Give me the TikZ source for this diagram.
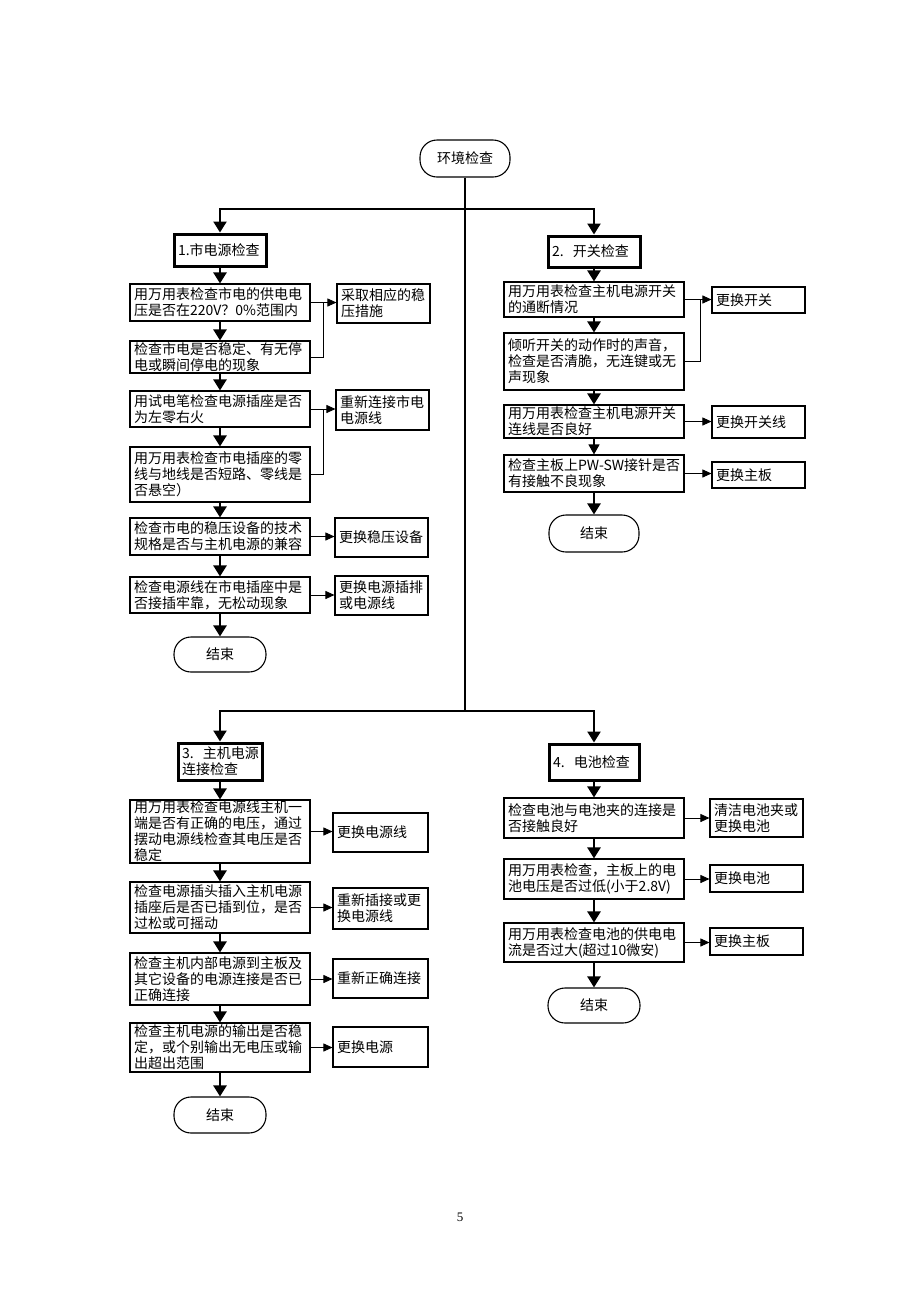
\documentclass[tikz,border=0pt]{standalone}
\usepackage{fontspec}
\setmainfont{Noto Sans CJK SC}
\newfontfamily\latinserif{Liberation Serif}
\usetikzlibrary{arrows.meta}
\tikzset{
  box/.style={draw, line width=1.1pt, rectangle, inner xsep=4pt, inner ysep=1pt,
    align=left, font=\fontsize{14}{16}\selectfont},
  secbox/.style={draw, line width=3pt, rectangle, inner xsep=4pt, inner ysep=1pt,
    align=left, font=\fontsize{14}{16}\selectfont},
  endbox/.style={box, rounded corners=17pt, align=center},
  mainln/.style={line width=2.4pt},
  mainarr/.style={line width=2.4pt, -{Triangle[length=11pt,width=13pt]}},
  sidearr/.style={line width=0.9pt, -{Triangle[length=9pt,width=8pt]}},
  sideln/.style={line width=0.9pt},
}
\newcommand\bx[7][box]{%
  \pgfmathsetmacro\bxcx{#3+#5/2}%
  \pgfmathsetmacro\bxcy{#4+#6/2}%
  \pgfmathsetmacro\bxtw{#5-8}%
  \node[#1, minimum width=#5pt, minimum height=#6pt, text width=\bxtw pt] (#2) at (\bxcx,\bxcy) {#7};}
\begin{document}
\begin{tikzpicture}[x=1pt,y=-1pt]
\useasboundingbox (0,0) rectangle (920,1302);
\fill[white] (0,0) rectangle (920,1302);

% top
\bx[endbox]{top}{420}{140}{90}{37}{环境检查}

% column 1
\bx[secbox]{b1}{174}{234}{92}{32}{1.市电源检查}
\bx{b1a}{130}{284}{180}{37}{用万用表检查市电的供电电\\压是否在220V？0\%范围内}
\bx{s1}{337}{284}{93}{39}{采取相应的稳\\压措施}
\bx{b1b}{130}{341}{180}{32}{检查市电是否稳定、有无停\\电或瞬间停电的现象}
\bx{b1c}{130}{391}{180}{36}{用试电笔检查电源插座是否\\为左零右火}
\bx{s2}{336}{390}{93}{40}{重新连接市电\\电源线}
\bx{b1d}{130}{447}{180}{55}{用万用表检查市电插座的零\\线与地线是否短路、零线是\\否悬空）}
\bx{b1e}{130}{518}{180}{37}{检查市电的稳压设备的技术\\规格是否与主机电源的兼容}
\bx{s3}{335}{518}{93}{39}{更换稳压设备}
\bx{b1f}{130}{577}{180}{36}{检查电源线在市电插座中是\\否接插牢靠，无松动现象}
\bx{s4}{335}{576}{93}{39}{更换电源插排\\或电源线}
\bx[endbox]{e1}{174}{637}{92}{35}{结束}

% column 2
\bx[secbox]{b2}{548}{236}{92}{31}{2.~~开关检查}
\bx{b2a}{504}{282}{180}{35}{用万用表检查主机电源开关\\的通断情况}
\bx{s5}{712}{287}{93}{26}{更换开关}
\bx{b2b}{504}{333}{180}{57}{倾听开关的动作时的声音，\\检查是否清脆，无连键或无\\声现象}
\bx{b2c}{504}{405}{180}{33}{用万用表检查主机电源开关\\连线是否良好}
\bx{s6}{712}{406}{93}{32}{更换开关线}
\bx{b2d}{504}{455}{180}{37}{\mbox{检查主板上PW-SW接针是否}\\有接触不良现象}
\bx{s7}{712}{462}{93}{26}{更换主板}
\bx[endbox]{e2}{549}{515}{90}{37}{结束}

% column 3
\bx[secbox]{b3}{178}{743}{84}{37}{3.~~主机电源\\连接检查}
\bx{b3a}{130}{800}{180}{63}{用万用表检查电源线主机一\\端是否有正确的电压，通过\\摆动电源线检查其电压是否\\稳定}
\bx{s8}{333}{813}{95}{39}{更换电源线}
\bx{b3b}{130}{882}{180}{51}{检查电源插头插入主机电源\\插座后是否已插到位，是否\\过松或可摇动}
\bx{s9}{333}{888}{95}{41}{重新插接或更\\换电源线}
\bx{b3c}{130}{953}{180}{52}{检查主机内部电源到主板及\\其它设备的电源连接是否已\\正确连接}
\bx{s10}{333}{959}{95}{39}{重新正确连接}
\bx{b3d}{130}{1023}{180}{49}{检查主机电源的输出是否稳\\定，或个别输出无电压或输\\出超出范围}
\bx{s11}{333}{1027}{95}{40}{更换电源}
\bx[endbox]{e3}{174}{1097}{92}{36}{结束}

% column 4
\bx[secbox]{b4}{549}{744}{90}{36}{4.~~电池检查}
\bx{b4a}{504}{798}{180}{40}{检查电池与电池夹的连接是\\否接触良好}
\bx{s12}{710}{799}{93}{38}{清洁电池夹或\\更换电池}
\bx{b4b}{504}{859}{180}{40}{用万用表检查，主板上的电\\池电压是否过低(小于2.8V)}
\bx{s13}{710}{865}{93}{27}{更换电池}
\bx{b4c}{504}{923}{180}{39}{用万用表检查电池的供电电\\流是否过大(超过10微安)}
\bx{s14}{710}{928}{93}{27}{更换主板}
\bx[endbox]{e4}{548}{988}{92}{35}{结束}

% trunk
\coordinate (j1) at (465,209);
\coordinate (j2) at (465,711);
\draw[mainln] (top.south) -- (j2);
\draw[mainarr] (j1) -| (b1.north);
\draw[mainarr] (j1) -| (b2.north);
\draw[mainarr] (j2) -| (b3.north);
\draw[mainarr] (j2) -| (b4.north);

% column chains
\draw[mainarr] (b1.south) -- (b1a.north);
\draw[mainarr] (b1a.south) -- (b1b.north);
\draw[mainarr] (b1b.south) -- (b1c.north);
\draw[mainarr] (b1c.south) -- (b1d.north);
\draw[mainarr] (b1d.south) -- (b1e.north);
\draw[mainarr] (b1e.south) -- (b1f.north);
\draw[mainarr] (b1f.south) -- (e1.north);

\draw[mainarr] (b2.south) -- (b2a.north);
\draw[mainarr] (b2a.south) -- (b2b.north);
\draw[mainarr] (b2b.south) -- (b2c.north);
\draw[line width=1.2pt, -{Triangle[length=10pt,width=11pt]}] (b2c.south) -- (b2d.north);
\draw[mainarr] (b2d.south) -- (e2.north);

\draw[mainarr] (b3.south) -- (b3a.north);
\draw[mainarr] (b3a.south) -- (b3b.north);
\draw[mainarr] (b3b.south) -- (b3c.north);
\draw[mainarr] (b3c.south) -- (b3d.north);
\draw[mainarr] (b3d.south) -- (e3.north);

\draw[mainarr] (b4.south) -- (b4a.north);
\draw[mainarr] (b4a.south) -- (b4b.north);
\draw[mainarr] (b4b.south) -- (b4c.north);
\draw[mainarr] (b4c.south) -- (e4.north);

% side connectors
\coordinate (k1) at (323,302.5);
\coordinate (k2) at (323,409);
\coordinate (k3) at (700,299.5);
\draw[sidearr] (b1a.east) -- (b1a.east -| s1.west);
\draw[sideln] (b1b.east) -| (k1);
\draw[sidearr] (b1c.east) -- (b1c.east -| s2.west);
\draw[sideln] (b1d.east) -| (k2);
\draw[sidearr] (b1e.east) -- (b1e.east -| s3.west);
\draw[sidearr] (b1f.east) -- (b1f.east -| s4.west);

\draw[sidearr] (b2a.east) -- (b2a.east -| s5.west);
\draw[sideln] (b2b.east) -| (k3);
\draw[sidearr] (b2c.east) -- (b2c.east -| s6.west);
\draw[sidearr] (b2d.east) -- (b2d.east -| s7.west);

\draw[sidearr] (b3a.east) -- (b3a.east -| s8.west);
\draw[sidearr] (b3b.east) -- (b3b.east -| s9.west);
\draw[sidearr] (b3c.east) -- (b3c.east -| s10.west);
\draw[sidearr] (b3d.east) -- (b3d.east -| s11.west);

\draw[sidearr] (b4a.east) -- (b4a.east -| s12.west);
\draw[sidearr] (b4b.east) -- (b4b.east -| s13.west);
\draw[sidearr] (b4c.east) -- (b4c.east -| s14.west);

% page number
\node[font=\latinserif\fontsize{13}{13}\selectfont] (pg) at (460,1217) {5};
\end{tikzpicture}
\end{document}
